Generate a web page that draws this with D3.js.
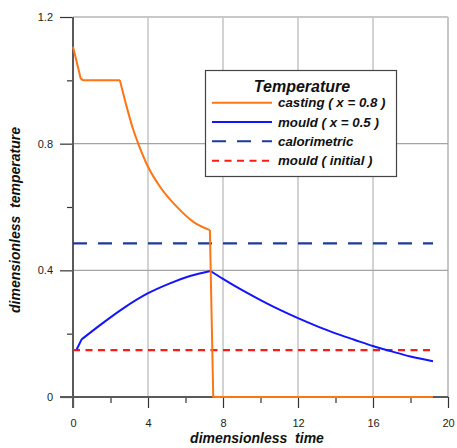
<!DOCTYPE html>
<html><head><meta charset="utf-8">
<script src="https://cdn.jsdelivr.net/npm/d3@7/dist/d3.min.js"></script>
<style>
html,body{margin:0;padding:0;background:#fff;}
svg{display:block;font-family:"Liberation Sans",Arial,sans-serif;}
</style></head>
<body>
<svg id="chart" width="457" height="448"></svg>
<script>
// ---- data ----
const castingT = [0, 0.41, 0.55, 2.5, 2.86, 3.22, 3.48, 4.0, 4.64, 5.53, 6.42, 7.3, 7.48, 19.2];
const castingV = [1.106, 1.006, 1.0, 1.0, 0.917, 0.843, 0.8, 0.727, 0.664, 0.601, 0.553, 0.527, 0, 0];
const mouldT = [0.2, 0.46, 1.62, 2.68, 3.98, 5.17, 6.24, 7.33, 8, 9, 10, 11.04, 12, 13, 14, 15, 16, 17, 18, 19.2];
const mouldV = [0.151, 0.182, 0.235, 0.28, 0.327, 0.359, 0.382, 0.398, 0.373, 0.338, 0.306, 0.275, 0.249, 0.224, 0.201, 0.181, 0.161, 0.144, 0.128, 0.113];
const calorimetricT = [0, 19.2];
const calorimetricV = [0.485, 0.485];
const initialT = [0, 19.2];
const initialV = [0.148, 0.148];
const xMajorTicks = [0, 4, 8, 12, 16, 20];
const xMinorTicks = [2, 6, 10, 14, 18];
const yMajorTicks = [0, 0.4, 0.8, 1.2];
const yMinorTicks = [0.2, 0.6, 1.0];
const yTickLabels = ["0", "0.4", "0.8", "1.2"];
const legendLabels = ["casting ( x = 0.8 )", "mould ( x = 0.5 )", "calorimetric", "mould ( initial )"];
const legendTitle = "Temperature";
const xTitle = "dimensionless  time";
const yTitle = "dimensionless  temperature";

// ---- layout ----
const svg = d3.select("#chart");
const x = d3.scaleLinear().domain([0, 20]).range([73, 448]);
const y = d3.scaleLinear().domain([0, 1.2]).range([397, 17]);

// grid
const grid = svg.append("g");
grid.selectAll("line.v").data(xMajorTicks.slice(1)).join("line")
  .attr("x1", d => x(d)).attr("x2", d => x(d))
  .attr("y1", y(0)).attr("y2", y(1.2))
  .attr("stroke", d => d === 20 ? "#a0a0a0" : "#c4c4c4")
  .attr("stroke-width", d => d === 20 ? 1.2 : 1.5);
grid.selectAll("line.h").data(yMajorTicks.slice(1)).join("line")
  .attr("x1", x(0)).attr("x2", x(20))
  .attr("y1", d => y(d)).attr("y2", d => y(d))
  .attr("stroke", d => d === 1.2 ? "#c8c8c8" : "#a4a4a4")
  .attr("stroke-width", d => d === 1.2 ? 2 : 1.2);

// axes
const fmtY = d => yTickLabels[yMajorTicks.indexOf(d)];
const yAxis = svg.append("g").attr("transform", `translate(${x(0)},0)`)
  .call(d3.axisLeft(y).tickValues(yMajorTicks).tickSize(13).tickSizeOuter(0).tickPadding(7).tickFormat(fmtY));
const yMinor = svg.append("g").attr("transform", `translate(${x(0)},0)`)
  .call(d3.axisLeft(y).tickValues(yMinorTicks).tickSize(6).tickSizeOuter(0).tickFormat(""));
const xAxis = svg.append("g").attr("transform", `translate(0,${y(0)})`)
  .call(d3.axisBottom(x).tickValues(xMajorTicks).tickSize(11).tickSizeOuter(0).tickPadding(11).tickFormat(d3.format("d")));
const xMinor = svg.append("g").attr("transform", `translate(0,${y(0)})`)
  .call(d3.axisBottom(x).tickValues(xMinorTicks).tickSize(6).tickSizeOuter(0).tickFormat(""));
[yAxis, yMinor, xAxis, xMinor].forEach(g => {
  g.select(".domain").remove();
  g.selectAll(".tick line").attr("stroke", "#333").attr("stroke-width", 1.2);
  g.selectAll(".tick text").attr("font-size", 11).attr("fill", "#222")
    .attr("font-family", "'Liberation Sans',Arial,sans-serif");
});
// axis lines (extended)
svg.append("line").attr("x1", x(0)).attr("x2", x(0)).attr("y1", y(1.2)).attr("y2", y(0) + 11)
  .attr("stroke", "#5a5a5a").attr("stroke-width", 2);
svg.append("line").attr("x1", x(0) - 13).attr("x2", x(20)).attr("y1", y(0)).attr("y2", y(0))
  .attr("stroke", "#5a5a5a").attr("stroke-width", 2);

// series
const zip = (a, b) => a.map((v, i) => [v, b[i]]);
const lin = d3.line().x(d => x(d[0])).y(d => y(d[1])).curve(d3.curveLinear);
const mono = d3.line().x(d => x(d[0])).y(d => y(d[1])).curve(d3.curveMonotoneX);
// piecewise path: linear at kinks, smooth in between
function piecewise(pts, breaks) {
  // breaks: list of [startIdx, endIdx, gen]
  return breaks.map(([a, b, g]) => g(pts.slice(a, b + 1))).join("");
}
const castPts = zip(castingT, castingV);
const mouldPts = zip(mouldT, mouldV);
const iPeak = 7;
const castD = piecewise(castPts, [[0, 3, lin], [3, 11, mono], [11, castPts.length - 1, lin]]);
const mouldD = piecewise(mouldPts, [[0, 1, lin], [1, iPeak, mono], [iPeak, mouldPts.length - 1, mono]]);

const series = [
  {d: lin(zip(initialT, initialV)), color: "#ff1a1a", dash: "7,5.5", width: 2.2},
  {d: lin(zip(calorimetricT, calorimetricV)), color: "#1a3c9c", dash: "14,11", width: 2.2},
  {d: mouldD, color: "#1414ff", dash: null, width: 2},
  {d: castD, color: "#ff7414", dash: null, width: 2}
];
series.forEach(s => {
  svg.append("path").attr("d", s.d)
    .attr("fill", "none").attr("stroke", s.color).attr("stroke-width", s.width)
    .attr("stroke-dasharray", s.dash).attr("stroke-linejoin", "round");
});

// legend
const leg = svg.append("g");
leg.append("rect").attr("x", 205.5).attr("y", 70.5).attr("width", 191).attr("height", 106)
  .attr("fill", "#fff").attr("stroke", "#444").attr("stroke-width", 1.2);
leg.append("text").attr("x", 302).attr("y", 91.5).attr("text-anchor", "middle")
  .attr("font-size", 16).attr("font-weight", "bold").attr("font-style", "italic").attr("fill", "#111")
  .text(legendTitle);
const legStyles = [series[3], series[2], series[1], series[0]];
legendLabels.forEach((lab, i) => {
  const ly = 102.7 + i * 19.33;
  leg.append("line").attr("x1", 212).attr("x2", 272).attr("y1", ly).attr("y2", ly)
    .attr("stroke", legStyles[i].color).attr("stroke-width", 2)
    .attr("stroke-dasharray", legStyles[i].dash);
  leg.append("text").attr("x", 278).attr("y", ly + 4.7)
    .attr("font-size", 13.3).attr("font-weight", "bold").attr("font-style", "italic").attr("fill", "#111")
    .text(lab);
});

// axis titles
svg.append("text").attr("x", 257).attr("y", 443).attr("text-anchor", "middle")
  .attr("font-size", 14).attr("font-weight", "bold").attr("font-style", "italic").attr("fill", "#111")
  .style("white-space", "pre").text(xTitle);
svg.append("text").attr("transform", "translate(20,220) rotate(-90)").attr("text-anchor", "middle")
  .attr("font-size", 14).attr("font-weight", "bold").attr("font-style", "italic").attr("fill", "#111")
  .style("white-space", "pre").text(yTitle);
</script>
</body></html>
